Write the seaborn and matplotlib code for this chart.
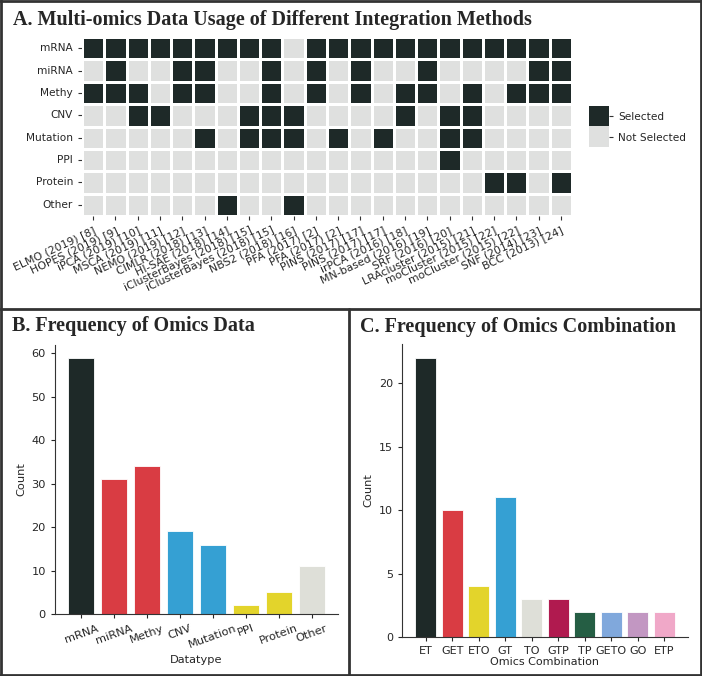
import numpy as np
import pandas as pd
import seaborn as sns
import matplotlib.pyplot as plt
from matplotlib.colors import ListedColormap

#========================================================================================================
# Data
#========================================================================================================

methods = ['ELMO (2019) [8]', 'HOPES (2019) [9]', 'iPCA (2019) [10]', 'MSCA (2019) [11]',
           'NEMO (2019) [12]', 'CIMLR (2018) [13]', 'HI-SAE (2018) [14]', 'iClusterBayes (2018) [15]',
           'iClusterBayes (2018) [15]', 'NBS2 (2018) [16]', 'PFA (2017) [2]', 'PFA (2017) [2]',
           'PINS (2017) [17]', 'PINS (2017) [17]', 'irPCA (2016) [18]', 'MN-based (2016) [19]',
           'SRF (2016) [20]', 'LRAcluster (2015) [21]', 'moCluster (2015) [22]', 'moCluster (2015) [22]',
           'SNF (2014) [23]', 'BCC (2013) [24]']

omics = ['mRNA', 'miRNA', 'Methy', 'CNV', 'Mutation', 'PPI', 'Protein', 'Other']

#1 = selected, 0 = not selected (one list per omics type, one entry per method)
use_mrna     = [1,1,1,1,1,1,1,1,1,0,1,1,1,1,1,1,1,1,1,1,1,1]
use_mirna    = [0,1,0,0,1,1,0,0,1,0,1,0,1,0,0,1,0,0,0,0,1,1]
use_methy    = [1,1,1,0,1,1,0,0,1,0,1,0,1,0,1,1,0,1,0,1,1,1]
use_cnv      = [0,0,1,1,0,0,0,1,1,1,0,0,0,0,1,0,1,1,0,0,0,0]
use_mutation = [0,0,0,0,0,1,0,1,1,1,0,1,0,1,0,0,1,1,0,0,0,0]
use_ppi      = [0,0,0,0,0,0,0,0,0,0,0,0,0,0,0,0,1,0,0,0,0,0]
use_protein  = [0,0,0,0,0,0,0,0,0,0,0,0,0,0,0,0,0,0,1,1,0,1]
use_other    = [0,0,0,0,0,0,1,0,0,1,0,0,0,0,0,0,0,0,0,0,0,0]

#Frequency of omics data
datatypes = ['mRNA', 'miRNA', 'Methy', 'CNV', 'Mutation', 'PPI', 'Protein', 'Other']
datatype_counts = [59, 31, 34, 19, 16, 2, 5, 11]

#Frequency of omics combination
combinations = ['ET', 'GET', 'ETO', 'GT', 'TO', 'GTP', 'TP', 'GETO', 'GO', 'ETP']
combination_counts = [22, 10, 4, 11, 3, 3, 2, 2, 2, 2]

#========================================================================================================
# Colours
#========================================================================================================

dark = '#1E2928'
light = '#DFE0DF'
red = '#D93C43'
blue = '#35A0D3'
yellow = '#E3D42B'
grey = '#DEDFD8'

datatype_colors = [dark, red, red, blue, blue, yellow, yellow, grey]
combination_colors = [dark, red, yellow, blue, grey, '#B01A4F', '#255E44', '#80A8DC', '#C297C2', '#F0A8C8']

#========================================================================================================
# Figure
#========================================================================================================

sns.set_style('ticks')
plt.rcParams['font.family'] = ['DejaVu Sans']
plt.rcParams['axes.edgecolor'] = '#333333'

fig = plt.figure(figsize=(7.02, 6.76), dpi=100)
W, H = 702.0, 676.0

def place(x0, y0, x1, y1):
    #pixel box (top-left origin) -> figure axes
    return fig.add_axes([x0 / W, 1 - y1 / H, (x1 - x0) / W, (y1 - y0) / H])

#---- A. heatmap
usage_df = pd.DataFrame([use_mrna, use_mirna, use_methy, use_cnv, use_mutation,
                         use_ppi, use_protein, use_other], index=omics, columns=range(len(methods)))

ax_a = place(82, 37, 572, 216)
cax = place(589, 106, 609, 147)
sns.heatmap(usage_df, cmap=ListedColormap([light, dark]), vmin=0, vmax=1,
            linewidths=0.8, linecolor='white', ax=ax_a, cbar_ax=cax,
            xticklabels=True, yticklabels=True)
ax_a.set_xticklabels(methods, rotation=25, ha='right', rotation_mode='anchor', fontsize=7.8)
ax_a.set_yticklabels(omics, rotation=0, fontsize=7.6)
ax_a.tick_params(length=3, color='#333333')

cbar = ax_a.collections[0].colorbar
cbar.set_ticks([0.25, 0.75])
cbar.set_ticklabels(['Not Selected', 'Selected'])
cbar.ax.tick_params(labelsize=7.6, length=3, color='#333333')

#---- B. frequency of omics data
ax_b = place(55, 345, 338, 614)
sns.barplot(x=datatypes, y=datatype_counts, hue=datatypes, palette=datatype_colors, saturation=1,
            legend=False, width=0.8, edgecolor='white', linewidth=0.6, ax=ax_b)
ax_b.set_xlim(-0.8, len(datatypes) - 0.2)
ax_b.set_ylim(0, max(datatype_counts) * 1.05)
ax_b.set_yticks([0, 10, 20, 30, 40, 50, 60])
ax_b.set_xlabel('Datatype', fontsize=8.2)
ax_b.set_ylabel('Count', fontsize=8.2)
ax_b.tick_params(labelsize=8.2, length=3)
plt.setp(ax_b.get_xticklabels(), rotation=20, ha='center')
sns.despine(ax=ax_b)

#---- C. frequency of omics combination
ax_c = place(402, 344, 688, 637)
sns.barplot(x=combinations, y=combination_counts, hue=combinations, palette=combination_colors, saturation=1,
            legend=False, width=0.8, edgecolor='white', linewidth=0.6, ax=ax_c)
ax_c.set_xlim(-0.9, len(combinations) - 0.1)
ax_c.set_ylim(0, max(combination_counts) * 1.05)
ax_c.set_yticks([0, 5, 10, 15, 20])
ax_c.set_xlabel('Omics Combination', fontsize=8, labelpad=1)
ax_c.set_ylabel('Count', fontsize=8.2)
ax_c.tick_params(labelsize=8, length=3)
sns.despine(ax=ax_c)

#---- panel titles
title_kw = dict(family='Liberation Serif', fontweight='bold', fontsize=14.5, va='baseline')
fig.text(13 / W, 1 - 25 / H, 'A. Multi-omics Data Usage of Different Integration Methods', **title_kw)
fig.text(12 / W, 1 - 331 / H, 'B. Frequency of Omics Data', **title_kw)
fig.text(360 / W, 1 - 332 / H, 'C. Frequency of Omics Combination', **title_kw)

#---- panel borders
border = dict(color='#333333', linewidth=2, transform=fig.transFigure)
for xs, ys in [([0, 1], [0.0015, 0.0015]), ([0, 1], [0.9985, 0.9985]),
               ([0.0015, 0.0015], [0, 1]), ([0.9985, 0.9985], [0, 1]),
               ([0, 1], [1 - 309 / H, 1 - 309 / H]),
               ([349 / W, 349 / W], [0, 1 - 309 / H])]:
    fig.add_artist(plt.Line2D(xs, ys, **border))

plt.savefig('out.png', dpi=100)
plt.close()
